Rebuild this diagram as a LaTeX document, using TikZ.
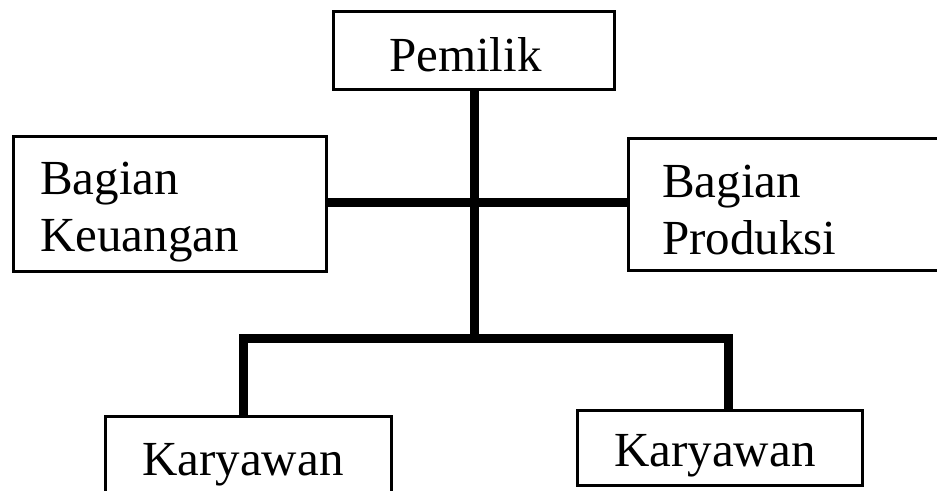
\documentclass[tikz,border=0pt]{standalone}
\usepackage{fontspec}
\setmainfont{Liberation Serif}
\begin{document}
\begin{tikzpicture}[x=1pt,y=-1pt,
  box/.style={draw=black,line width=3pt,fill=white,inner sep=0pt,anchor=center},
  lbl/.style={inner sep=0pt,anchor=base west,font=\fontsize{49}{57}\selectfont},
  conn/.style={draw=black,line width=9pt,line join=miter}]
\useasboundingbox (0,0) rectangle (937,490);
\clip (0,0) rectangle (937,490);
% boxes
\node[box,minimum width=281pt,minimum height=78pt] (p) at (474,50.5) {};
\node[box,minimum width=313pt,minimum height=135pt] (ku) at (170,204) {};
\node[box,minimum width=331.5pt,minimum height=132pt] (pr) at (794.25,204.5) {};
\node[box,minimum width=286pt,minimum height=94pt] (k1) at (248.5,463.5) {};
\node[box,minimum width=285pt,minimum height=75pt] (k2) at (720,448) {};
% junctions
\coordinate (tj) at (474.5,338.5);
\coordinate (jl) at (243.5,338.5);
\coordinate (jr) at (728,338.5);
% connectors
\draw[conn] (p.south -| tj) -- (tj);
\draw[conn] (ku.east |- 0,202) -- (pr.west |- 0,202);
\draw[conn] (jl |- k1.north) -- (jl) -- (jr) -- (jr |- k2.north);
% labels
\node[lbl] (tp) at (389,71) {Pemilik};
\node[lbl] (tku1) at (40,194) {Bagian};
\node[lbl] (tku2) at (40,251) {Keuangan};
\node[lbl] (tpr1) at (662,197) {Bagian};
\node[lbl] (tpr2) at (662,254) {Produksi};
\node[lbl] (tk1) at (142,475) {Karyawan};
\node[lbl] (tk2) at (614,466) {Karyawan};
\end{tikzpicture}
\end{document}
